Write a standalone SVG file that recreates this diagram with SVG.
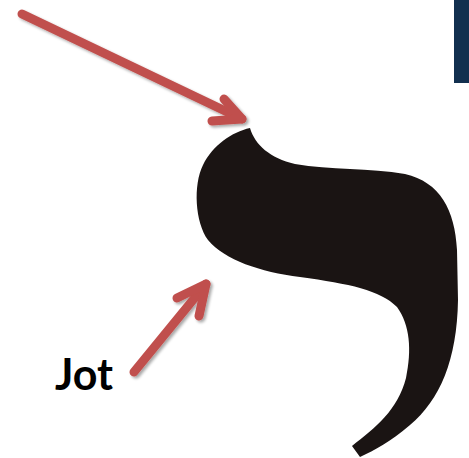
<svg xmlns="http://www.w3.org/2000/svg" width="469" height="458" viewBox="0 0 469 458">
<defs>
<style>
.arrow{fill:none;stroke:#c0504d;stroke-width:9;stroke-linecap:round;stroke-linejoin:round}
.label{font-family:Lato,"Liberation Sans",Arial,sans-serif;font-weight:bold;font-size:43px;fill:#000}
</style>
<filter id="sh" x="-20%" y="-20%" width="140%" height="140%">
<feGaussianBlur in="SourceAlpha" stdDeviation="1.5"/>
<feOffset dx="1.5" dy="2" result="b"/>
<feComponentTransfer><feFuncA type="linear" slope="0.35"/></feComponentTransfer>
<feMerge><feMergeNode/><feMergeNode in="SourceGraphic"/></feMerge>
</filter>
</defs>
<rect width="469" height="458" fill="#fff"/>
<rect id="bar" x="454" y="0" width="15" height="83" fill="#12304f"/>
<g id="yod">
<path fill="#1a1413" d="M250,128 C255,145 270,158 295,164 C330,170 370,168 405,174 C440,182 455,210 457,250 L458,300 C457,360 440,400 410,425 C390,442 375,450 360,457 L352,446 C375,428 398,410 406,378 C412,350 410,325 397,307 C380,290 350,284 300,277 C260,272 225,260 208,240 C195,222 193,185 203,165 C213,145 232,132 250,128 Z"/>
</g>
<g id="jot">
<text class="label" x="55" y="390">Jot</text>
</g>
<g id="connectors" filter="url(#sh)">
<path class="arrow" d="M22,14 L242,119"/>
<path class="arrow" d="M224,99 L242,119 L212,121"/>
<path class="arrow" d="M134,372 L206,284"/>
<path class="arrow" d="M177,298 L206,284 L199,316"/>
</g>
</svg>
